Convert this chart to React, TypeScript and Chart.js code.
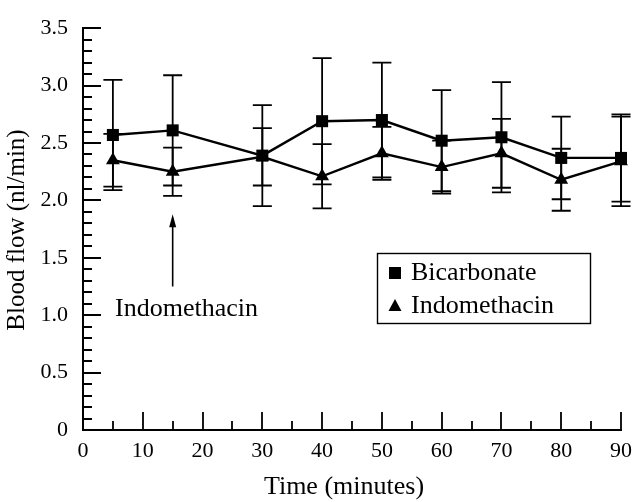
import React, { useEffect, useRef } from "react";
import { Chart, registerables } from "chart.js";

Chart.register(...registerables);

const times = [5, 15, 30, 40, 50, 60, 70, 80, 90];
const bicarbonate = [2.57, 2.61, 2.39, 2.69, 2.7, 2.52, 2.55, 2.37, 2.37];
const bicarbonateErr = [0.48, 0.48, 0.44, 0.55, 0.5, 0.44, 0.48, 0.36, 0.38];
const indomethacin = [2.35, 2.25, 2.38, 2.21, 2.41, 2.29, 2.41, 2.18, 2.34];
const indomethacinErr = [0.23, 0.21, 0.25, 0.28, 0.23, 0.23, 0.3, 0.27, 0.39];
const seriesNames = ["Bicarbonate", "Indomethacin"];
const xTitle = "Time (minutes)";
const yTitle = "Blood flow (nl/min)";
const arrowLabel = "Indomethacin";
const arrowTime = 15;
const arrowFrom = 1.25;
const arrowTo = 1.88;

const FONT = "'Liberation Serif', 'Times New Roman', serif";

const customPlugin = {
  id: "custom",
  beforeDatasetsDraw(chart: any) {
    const ctx = chart.ctx;
    const xs = chart.scales.x;
    const ys = chart.scales.y;
    ctx.save();
    ctx.strokeStyle = "#000";
    ctx.lineWidth = 1.8;
    const capHalf = 9.5;
    const drawErr = (vals: number[], errs: number[]) => {
      vals.forEach((v, i) => {
        const px = xs.getPixelForValue(times[i]);
        const top = ys.getPixelForValue(v + errs[i]);
        const bot = ys.getPixelForValue(v - errs[i]);
        ctx.beginPath();
        ctx.moveTo(px, top);
        ctx.lineTo(px, bot);
        ctx.moveTo(px - capHalf, top);
        ctx.lineTo(px + capHalf, top);
        ctx.moveTo(px - capHalf, bot);
        ctx.lineTo(px + capHalf, bot);
        ctx.stroke();
      });
    };
    drawErr(bicarbonate, bicarbonateErr);
    drawErr(indomethacin, indomethacinErr);
    ctx.restore();
  },
  afterDraw(chart: any) {
    const ctx = chart.ctx;
    const xs = chart.scales.x;
    const ys = chart.scales.y;
    const area = chart.chartArea;
    ctx.save();
    ctx.strokeStyle = "#000";
    ctx.fillStyle = "#000";
    ctx.lineWidth = 1.8;
    // axis ticks (inward)
    ctx.beginPath();
    for (let v = 0; v <= 90 + 1e-6; v += 5) {
      const px = Math.round(xs.getPixelForValue(v));
      const len = v % 10 === 0 ? 18 : 9;
      ctx.moveTo(px, area.bottom);
      ctx.lineTo(px, area.bottom - len);
    }
    for (let k = 0; k <= 35; k++) {
      const v = k / 10;
      const py = Math.round(ys.getPixelForValue(v));
      const len = k % 5 === 0 ? 18 : 9;
      ctx.moveTo(area.left, py);
      ctx.lineTo(area.left + len, py);
    }
    ctx.stroke();

    // arrow annotation
    const ax = xs.getPixelForValue(arrowTime);
    const ay1 = ys.getPixelForValue(arrowFrom);
    const ay2 = ys.getPixelForValue(arrowTo);
    ctx.lineWidth = 1.6;
    ctx.beginPath();
    ctx.moveTo(ax, ay1);
    ctx.lineTo(ax, ay2 + 10);
    ctx.stroke();
    ctx.beginPath();
    ctx.moveTo(ax, ay2);
    ctx.lineTo(ax - 3.5, ay2 + 13);
    ctx.lineTo(ax + 3.5, ay2 + 13);
    ctx.closePath();
    ctx.fill();

    ctx.font = `26px ${FONT}`;
    ctx.textBaseline = "middle";
    ctx.textAlign = "left";
    ctx.fillText(arrowLabel, 115, ys.getPixelForValue(1.05));

    // legend
    const lx = 377, ly = 253, lw = 213, lh = 70;
    ctx.lineWidth = 1.4;
    ctx.strokeRect(lx + 0.5, ly + 0.5, lw, lh);
    const rowY = [ly + 20, ly + 53];
    ctx.fillRect(389, rowY[0] - 6, 12, 12);
    ctx.beginPath();
    ctx.moveTo(395, rowY[1] - 7);
    ctx.lineTo(388.5, rowY[1] + 5);
    ctx.lineTo(401.5, rowY[1] + 5);
    ctx.closePath();
    ctx.fill();
    ctx.fillText(seriesNames[0], 411, rowY[0]);
    ctx.fillText(seriesNames[1], 411, rowY[1]);

    // axis titles
    ctx.textAlign = "center";
    ctx.fillText(xTitle, 344, 487);
    ctx.save();
    ctx.translate(17, 230);
    ctx.rotate(-Math.PI / 2);
    ctx.font = `25px ${FONT}`;
    ctx.fillText(yTitle, 0, 0);
    ctx.restore();
    ctx.restore();
  },
};

export default function App() {
  const ref = useRef<HTMLCanvasElement>(null);
  useEffect(() => {
    if (!ref.current) return;
    const mk = (vals: number[]) => times.map((t, i) => ({ x: t, y: vals[i] }));
    const chart = new Chart(ref.current, {
      type: "line",
      data: {
        datasets: [
          {
            label: seriesNames[0],
            data: mk(bicarbonate),
            borderColor: "#000",
            backgroundColor: "#000",
            borderWidth: 2.4,
            pointStyle: "rect",
            pointRadius: 8.5,
            pointBorderWidth: 0,
            clip: false,
          },
          {
            label: seriesNames[1],
            data: mk(indomethacin),
            borderColor: "#000",
            backgroundColor: "#000",
            borderWidth: 2.4,
            pointStyle: "triangle",
            pointRadius: 8,
            pointBorderWidth: 0,
            clip: false,
          },
        ],
      },
      options: {
        responsive: false,
        animation: false,
        layout: { padding: { top: 8, right: 12, left: 0, bottom: 0 } },
        plugins: { legend: { display: false }, tooltip: { enabled: false } },
        scales: {
          x: {
            type: "linear",
            min: 0,
            max: 90,
            grid: { display: false, drawTicks: false },
            border: { display: true, color: "#000", width: 2 },
            ticks: {
              stepSize: 10,
              color: "#000",
              font: { size: 22, family: FONT },
              padding: 8,
              maxRotation: 0,
            },
            afterFit: (s: any) => {
              s.height = 72;
            },
          },
          y: {
            type: "linear",
            min: 0,
            max: 3.5,
            grid: { display: false, drawTicks: false },
            border: { display: true, color: "#000", width: 2 },
            ticks: {
              stepSize: 0.5,
              color: "#000",
              font: { size: 22, family: FONT },
              padding: 15,
              callback: (v: any) => (Number(v) === 0 ? "0" : Number(v).toFixed(1)),
            },
            afterFit: (s: any) => {
              s.width = 83;
            },
          },
        },
      },
      plugins: [customPlugin],
    });
    return () => chart.destroy();
  }, []);
  return (
    <div style={{ position: "absolute", left: 0, top: 0, width: 640, height: 502, background: "#fff" }}>
      <canvas ref={ref} width={640} height={502} />
    </div>
  );
}
